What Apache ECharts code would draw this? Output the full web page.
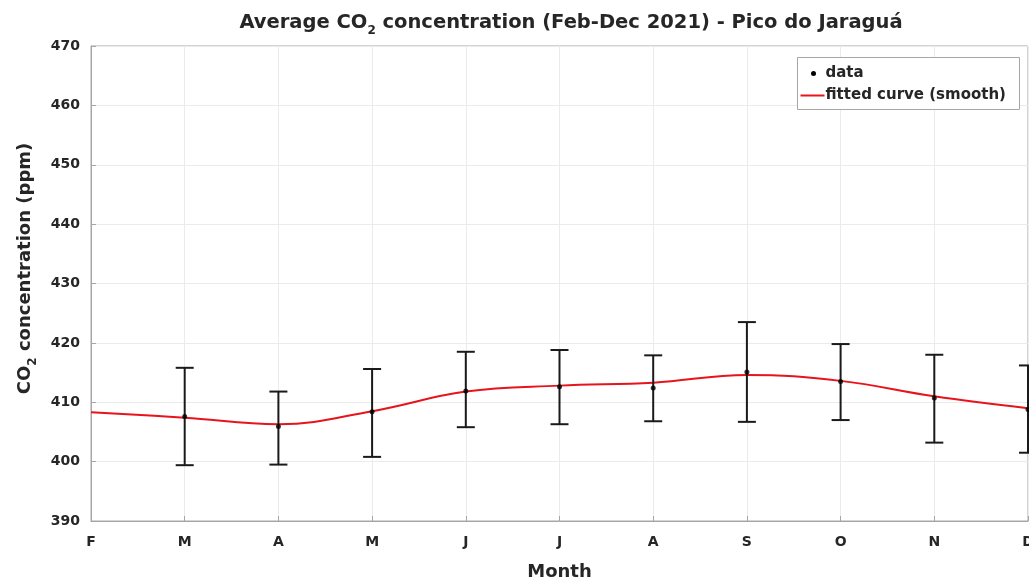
<!DOCTYPE html>
<html>
<head>
<meta charset="utf-8">
<script src="https://cdn.jsdelivr.net/npm/echarts@6/dist/echarts.min.js"></script>
<style>
  html, body { margin: 0; padding: 0; background: #fff; }
  #chart { width: 1029px; height: 584px; }
</style>
</head>
<body>
<div id="chart"></div>
<script>
// Monthly CO2 averages at Pico do Jaraguá, Feb–Dec 2021
const months = ['F', 'M', 'A', 'M', 'J', 'J', 'A', 'S', 'O', 'N', 'D'];
const monthlyMean = [null, 407.6, 405.9, 408.4, 411.9, 412.6, 412.4, 415.1, 413.5, 410.7, 408.8];
const errorLow = [null, 399.4, 399.5, 400.8, 405.8, 406.3, 406.8, 406.7, 407.0, 403.2, 401.5];
const errorHigh = [null, 415.8, 411.8, 415.6, 418.5, 418.8, 417.9, 423.5, 419.8, 418.0, 416.2];
const fittedCurve = [408.3, 407.4, 406.3, 408.5, 411.8, 412.8, 413.3, 414.6, 413.6, 411.0, 409.0];
const yTicks = { min: 390, max: 470, step: 10 };

const FONT = 'DejaVu Sans, Verdana, sans-serif';
const TEXT = '#262626';

const errorData = [];
months.forEach((m, i) => {
  if (monthlyMean[i] != null) errorData.push([i, errorLow[i], errorHigh[i]]);
});

const chart = echarts.init(document.getElementById('chart'));

chart.setOption({
  animation: false,
  backgroundColor: '#fff',
  title: {
    text: 'Average CO{sub|2} concentration (Feb-Dec 2021) - Pico do Jaraguá',
    left: 566,
    textAlign: 'center',
    top: 3,
    textStyle: {
      fontFamily: FONT, fontSize: 19.5, fontWeight: 'bold', color: TEXT,
      rich: {
        sub: { fontFamily: FONT, fontSize: 12, fontWeight: 'bold', color: TEXT, verticalAlign: 'bottom', padding: [17, 0, 0, 0] }
      }
    }
  },
  grid: {
    left: 91, right: 1, top: 46, bottom: 63,
    outerBoundsMode: 'none',
    containLabel: false,
    show: true, borderColor: '#a6a6a6', borderWidth: 1
  },
  xAxis: {
    type: 'category',
    data: months,
    boundaryGap: false,
    name: 'Month',
    nameLocation: 'middle',
    nameGap: 42,
    nameTextStyle: { fontFamily: FONT, fontSize: 18, fontWeight: 'bold', color: TEXT },
    axisLine: { lineStyle: { color: '#a6a6a6', width: 1 } },
    axisTick: { inside: true, length: 5, alignWithLabel: true, lineStyle: { color: '#a6a6a6' } },
    axisLabel: { fontFamily: FONT, fontSize: 14, fontWeight: 'bold', color: TEXT, margin: 14, interval: 0 },
    splitLine: { show: true, lineStyle: { color: '#ebebeb', width: 1 } }
  },
  yAxis: {
    type: 'value',
    min: yTicks.min, max: yTicks.max, interval: yTicks.step,
    name: 'CO{sub|2} concentration (ppm)',
    nameLocation: 'middle',
    nameRotate: 90,
    nameGap: 52,
    nameTextStyle: {
      fontFamily: FONT, fontSize: 18, fontWeight: 'bold', color: TEXT,
      padding: [0, 0, 0, 30],
      rich: {
        sub: { fontFamily: FONT, fontSize: 12, fontWeight: 'bold', color: TEXT, verticalAlign: 'bottom', padding: [15, 0, 0, 0] }
      }
    },
    axisLine: { show: true, lineStyle: { color: '#a6a6a6', width: 1 } },
    axisTick: { show: true, inside: true, length: 5, lineStyle: { color: '#a6a6a6' } },
    axisLabel: { fontFamily: FONT, fontSize: 14, fontWeight: 'bold', color: TEXT, margin: 11 },
    splitLine: { show: true, lineStyle: { color: '#ebebeb', width: 1 } }
  },
  series: [
    {
      name: 'fitted curve (smooth)',
      type: 'line',
      data: fittedCurve,
      smooth: 0.4,
      showSymbol: false,
      z: 2,
      lineStyle: { color: '#e8141c', width: 2 }
    },
    {
      name: 'error bars',
      type: 'custom',
      data: errorData,
      z: 3,
      renderItem: function (params, api) {
        const x = api.value(0);
        const lo = api.coord([x, api.value(1)]);
        const hi = api.coord([x, api.value(2)]);
        const half = 9;
        const style = { stroke: '#1a1a1a', lineWidth: 2 };
        return {
          type: 'group',
          children: [
            { type: 'line', shape: { x1: lo[0], y1: lo[1], x2: hi[0], y2: hi[1] }, style },
            { type: 'line', shape: { x1: hi[0] - half, y1: hi[1], x2: hi[0] + half, y2: hi[1] }, style },
            { type: 'line', shape: { x1: lo[0] - half, y1: lo[1], x2: lo[0] + half, y2: lo[1] }, style }
          ]
        };
      }
    },
    {
      name: 'data',
      type: 'scatter',
      data: monthlyMean,
      symbol: 'circle',
      symbolSize: 5,
      z: 4,
      itemStyle: { color: '#000' }
    }
  ],
  graphic: [
    {
      type: 'group',
      left: 797, top: 57,
      z: 100,
      children: [
        { type: 'rect', z: 100, shape: { x: 0, y: 0, width: 222, height: 52 }, style: { fill: '#fff', stroke: '#a6a6a6', lineWidth: 1 } },
        { type: 'circle', z: 101, shape: { cx: 16, cy: 16, r: 2.5 }, style: { fill: '#000' } },
        { type: 'text', z: 101, x: 28, y: 16, style: { text: 'data', fontFamily: FONT, fontSize: 15, fontWeight: 'bold', fill: TEXT, verticalAlign: 'middle' } },
        { type: 'line', z: 101, shape: { x1: 3, y1: 38, x2: 27, y2: 38 }, style: { stroke: '#e8141c', lineWidth: 2 } },
        { type: 'text', z: 101, x: 28, y: 38, style: { text: 'fitted curve (smooth)', fontFamily: FONT, fontSize: 15, fontWeight: 'bold', fill: TEXT, verticalAlign: 'middle' } }
      ]
    }
  ]
});
</script>
</body>
</html>
